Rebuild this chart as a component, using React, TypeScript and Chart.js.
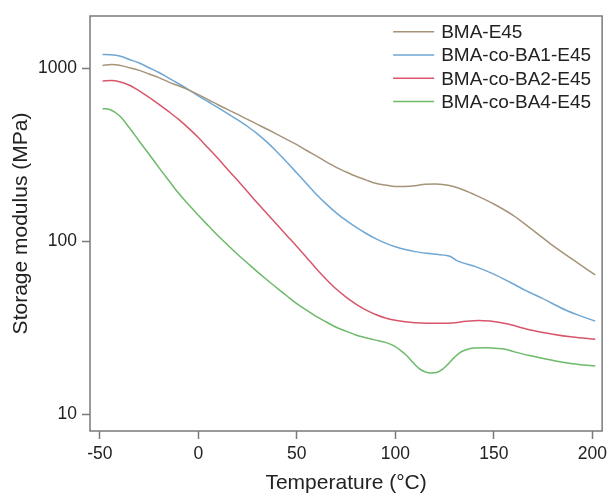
import React, { useEffect, useRef } from "react";
import { Chart, registerables } from "chart.js";

Chart.register(...registerables);

const seriesNames = ["BMA-E45", "BMA-co-BA1-E45", "BMA-co-BA2-E45", "BMA-co-BA4-E45"];
const seriesColors = ["#a69479", "#6fa7d4", "#d8566b", "#6cba6a"];

const bmaT = [-48.6, -44, -40, -35, -30, -25, -20, -15, -10, -5, 0, 5, 10, 15, 20, 25, 30, 35, 40, 45, 50, 55, 60, 65, 70, 75, 80, 85, 90, 95, 100, 105, 110, 115, 120, 125, 130, 135, 141, 150, 160, 170, 180, 190, 201.5];
const bmaE = [1036, 1050, 1040, 1005, 970, 925, 881, 830, 790, 748, 703, 658, 614, 575, 540, 505, 473, 443, 414, 386, 361, 334, 310, 287, 267, 251, 237, 226, 216, 211, 207, 207, 209, 213, 214, 212, 206, 197, 184, 164, 140.5, 115.5, 94.3, 78.4, 63.8];

const ba1T = [-48.6, -45, -40, -35, -30, -25, -20, -15, -10, -5, 0, 5, 10, 15, 20, 25, 30, 35, 40, 45, 50, 55, 60, 65, 70, 75, 80, 85, 90, 95, 100, 105, 110, 116, 121, 126, 128, 131, 141, 150, 158, 166, 174.7, 186.4, 194, 201.5];
const ba1E = [1200, 1195, 1174, 1121, 1070, 1005, 943, 875, 812, 752, 691, 639, 591, 544.6, 501.9, 459.8, 416.6, 372.1, 327.8, 285.5, 247.5, 214.4, 186.3, 163.6, 145.8, 131.7, 120.4, 111.1, 103.4, 97.4, 92.8, 89.4, 87, 85.1, 83.9, 82.7, 81.5, 77.5, 71, 64.5, 58.1, 52, 46.7, 40, 37, 34.5];

const ba2T = [-48.6, -44, -40, -35, -30, -25, -20, -15, -10, -5, 0, 5, 10, 15, 20, 25, 30, 35, 40, 45, 50, 55, 60, 65, 70, 75, 80, 85, 90, 95, 100, 105, 110, 116, 126, 136, 142, 148, 156, 168, 180, 190, 201.5];
const ba2E = [841, 849, 834, 796, 739, 678, 618, 560, 505, 450, 397, 345, 300, 259, 224, 193, 166, 143.6, 124.3, 107.6, 93.2, 80.3, 69.1, 60.1, 52.9, 47.5, 43.3, 40.1, 37.7, 36, 34.9, 34.2, 33.8, 33.6, 33.6, 34.4, 34.8, 34.6, 33.4, 30.8, 29, 27.9, 27.1];

const ba4T = [-48.6, -45, -40, -35, -30, -25, -20, -15, -10, -5, 0, 5, 10, 15, 20, 25, 30, 35, 40, 45, 50, 55, 60, 65, 70, 75, 80, 85, 90, 95, 100, 103, 106, 109, 112, 115, 118, 121, 124, 127, 130, 133, 136, 140, 146, 152, 157, 160, 170, 181.4, 190, 201.5];
const ba4E = [583, 576, 530, 452, 378, 318, 266, 224, 189, 163, 141, 123, 107.4, 94.8, 83.8, 74.6, 66.5, 59.6, 53.5, 48.2, 43.5, 39.9, 36.6, 34.1, 31.8, 30.2, 28.7, 27.7, 26.8, 26, 24.6, 23.2, 21.7, 19.9, 18.4, 17.6, 17.3, 17.4, 18.2, 19.6, 21.3, 22.8, 23.6, 24.1, 24.2, 24, 23.6, 23, 21.6, 20.3, 19.6, 19];

const xTicks = [-50, 0, 50, 100, 150, 200];
const yTicks = [10, 100, 1000];

const FONT = "'Liberation Sans', Arial, Helvetica, sans-serif";
const TEXT = "#222222";
const AXIS = "#7a7a7a";

const allT = [bmaT, ba1T, ba2T, ba4T];
const allE = [bmaE, ba1E, ba2E, ba4E];

const boxPlugin = {
  id: "boxPlugin",
  afterDraw(chart: any) {
    const { ctx, chartArea } = chart;
    ctx.save();
    ctx.strokeStyle = AXIS;
    ctx.lineWidth = 1.5;
    ctx.strokeRect(chartArea.left, chartArea.top, chartArea.right - chartArea.left, chartArea.bottom - chartArea.top);
    const right = chartArea.right;
    const top = chartArea.top;
    ctx.font = `19px ${FONT}`;
    ctx.textBaseline = "middle";
    ctx.textAlign = "left";
    chart.data.datasets.forEach((ds: any, i: number) => {
      const y = top + 15.7 + i * 23.3;
      ctx.strokeStyle = ds.borderColor;
      ctx.lineWidth = 1.5;
      ctx.beginPath();
      ctx.moveTo(right - 209, y);
      ctx.lineTo(right - 168, y);
      ctx.stroke();
      ctx.fillStyle = TEXT;
      ctx.fillText(ds.label, right - 161, y + 1);
    });
    ctx.restore();
  },
};

export default function App() {
  const ref = useRef<HTMLCanvasElement | null>(null);
  useEffect(() => {
    if (!ref.current) return;
    const datasets = seriesNames.map((name, i) => ({
      label: name,
      data: allT[i].map((t, j) => ({ x: t, y: allE[i][j] })),
      borderColor: seriesColors[i],
      backgroundColor: seriesColors[i],
      borderWidth: 1.5,
      pointRadius: 0,
      cubicInterpolationMode: "monotone" as const,
      fill: false,
    }));
    const chart = new Chart(ref.current, {
      type: "line",
      data: { datasets },
      plugins: [boxPlugin],
      options: {
        animation: false,
        responsive: false,
        maintainAspectRatio: false,
        layout: { padding: { top: 16, right: 6, left: 0, bottom: 0 } },
        plugins: { legend: { display: false }, tooltip: { enabled: false } },
        scales: {
          x: {
            type: "linear",
            min: -55,
            max: 205,
            afterBuildTicks: (s: any) => {
              s.ticks = xTicks.map((v) => ({ value: v }));
            },
            afterFit: (s: any) => {
              s.height = 63;
            },
            grid: { display: true, drawOnChartArea: false, drawTicks: true, tickLength: 8, tickWidth: 1.5, tickColor: AXIS },
            border: { display: false },
            ticks: { color: TEXT, font: { family: FONT, size: 17.5 }, padding: 5, maxRotation: 0, callback: (v: any) => String(v) },
            title: { display: true, text: "Temperature (°C)", color: TEXT, font: { family: FONT, size: 21, lineHeight: 1 }, padding: { top: 0, bottom: 0.5 } },
          },
          y: {
            type: "logarithmic",
            min: 8,
            max: 2000,
            afterBuildTicks: (s: any) => {
              s.ticks = yTicks.map((v) => ({ value: v }));
            },
            afterFit: (s: any) => {
              s.width = 90;
            },
            grid: { display: true, drawOnChartArea: false, drawTicks: true, tickLength: 8, tickWidth: 1.5, tickColor: AXIS },
            border: { display: false },
            ticks: { color: TEXT, font: { family: FONT, size: 17.5 }, padding: 5, callback: (v: any) => String(v) },
            title: { display: true, text: "Storage modulus (MPa)", color: TEXT, font: { family: FONT, size: 21, lineHeight: 1 }, padding: { top: 10.5, bottom: 0 } },
          },
        },
      },
    });
    return () => chart.destroy();
  }, []);
  return (
    <div style={{ position: "absolute", left: 0, top: 0, width: 612, height: 494, background: "#fff" }}>
      <canvas ref={ref} width={612} height={494} style={{ width: 612, height: 494, display: "block" }} />
    </div>
  );
}
